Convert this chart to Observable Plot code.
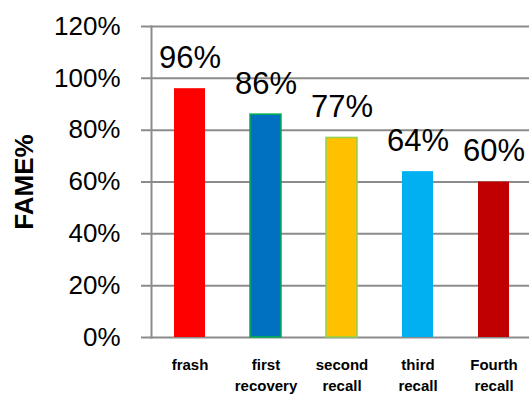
<!DOCTYPE html>
<html>
<head>
<meta charset="utf-8">
<script src="https://cdn.jsdelivr.net/npm/d3@7"></script>
<script src="https://cdn.jsdelivr.net/npm/@observablehq/plot@0.6"></script>
<style>
  html, body { margin: 0; padding: 0; background: #fff; }
</style>
</head>
<body>
<div id="chart"></div>
<script>
// FAME yield after successive catalyst reuse
const categories = ["frash", "first\nrecovery", "second\nrecall", "third\nrecall", "Fourth\nrecall"];
const values = [96, 86, 77, 64, 60];
const fills = ["#FF0000", "#0070C0", "#FFC000", "#00B0F0", "#C00000"];
const outlines = ["none", "#00B050", "#92D050", "none", "none"];
const yTicks = [0, 20, 40, 60, 80, 100, 120];

const data = categories.map((c, i) => ({category: c, value: values[i], fill: fills[i], outline: outlines[i]}));

const grey = "#8C8C8C";
const font = "'Liberation Sans', Arial, sans-serif";

const chart = Plot.plot({
  width: 529,
  height: 394,
  marginTop: 26,
  marginBottom: 57,
  marginLeft: 151,
  marginRight: 0,
  style: {fontFamily: font, background: "#fff", color: "#000", overflow: "visible"},
  x: {domain: categories, range: [151, 532], paddingInner: 0.59, paddingOuter: 0.295, label: null},
  y: {domain: [0, 120], label: null},
  color: {type: "identity"},
  marks: [
    Plot.ruleY(yTicks, {stroke: grey, strokeWidth: 2, insetLeft: -10}),
    Plot.frame({anchor: "left", stroke: grey, strokeWidth: 2}),
    Plot.barY(data, {x: "category", y: "value", fill: "fill", stroke: "outline", strokeWidth: 1.5}),
    Plot.text(data, {x: "category", y: "value", text: d => d.value + "%", fontSize: 31, dy: -31, fill: "#000"}),
    Plot.axisY({ticks: yTicks, tickFormat: d => d + "%", tickSize: 0, tickPadding: 31, fontSize: 26, label: null}),
    Plot.axisX({tickSize: 0, tickPadding: 18, fontSize: 15, fontWeight: "bold", lineHeight: 1.4, label: null}),
    Plot.text(["FAME%"], {frameAnchor: "left", textAnchor: "middle", rotate: -90, dx: -127, fontSize: 26, fontWeight: "bold", fill: "#000"})
  ]
});

document.getElementById("chart").appendChild(chart);
</script>
</body>
</html>
